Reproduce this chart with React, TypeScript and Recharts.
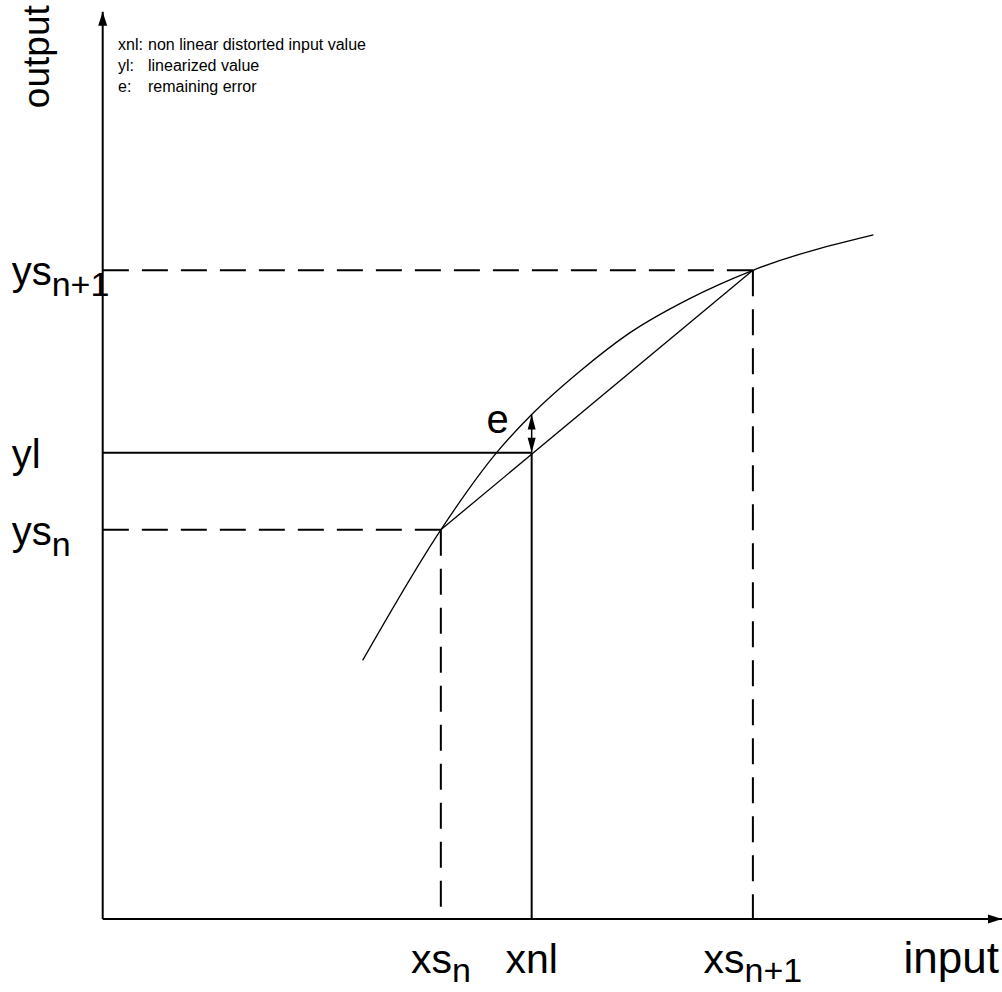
import React from 'react';
import { ComposedChart, Line, XAxis, YAxis, ReferenceLine, ReferenceDot } from 'recharts';

// non linear characteristic (input / output in % of axis length)
const curveInput = [28.9, 37.6, 43.8, 47.7, 53.1, 58.6, 65.1, 72.3, 85.7];
const curveOutput = [28.5, 42.9, 51.4, 55.6, 60.4, 64.6, 68.3, 71.5, 75.4];

// support points and the linearized value
const xsN = 37.6;
const xnl = 47.7;
const xsN1 = 72.3;
const ysN = 42.9;
const yl = 51.4;
const ysN1 = 71.5;

const xTicks = [xsN, xnl, xsN1];
const xTickLabels = [['xs', 'n'], ['xnl', ''], ['xs', 'n+1']];
const yTicks = [ysN, yl, ysN1];
const yTickLabels = [['ys', 'n'], ['yl', ''], ['ys', 'n+1']];

const legendLines = [
  ['xnl:', 'non linear distorted input value'],
  ['yl:', 'linearized value'],
  ['e:', 'remaining error'],
];

const curveData = curveInput.map((x, i) => ({ x, y: curveOutput[i] }));
const chordData = [
  { x: xsN, y: ysN },
  { x: xsN1, y: ysN1 },
];
const eTop = curveOutput[curveInput.indexOf(xnl)];

const FONT = '"Liberation Sans", Arial, Helvetica, sans-serif';

const XTick = (props: any) => {
  const { x, y, payload } = props;
  const [main, sub] = xTickLabels[xTicks.indexOf(payload.value)] || ['', ''];
  return (
    <text x={x} y={y + 54} textAnchor="middle" fontSize={41} fontFamily={FONT} fill="#000">
      {main}
      {sub && (
        <tspan fontSize={34} dy={9}>
          {sub}
        </tspan>
      )}
    </text>
  );
};

const YTick = (props: any) => {
  const { x, y, payload } = props;
  const [main, sub] = yTickLabels[yTicks.indexOf(payload.value)] || ['', ''];
  return (
    <text x={x - 91} y={y + 15} textAnchor="start" fontSize={40} fontFamily={FONT} fill="#000">
      {main}
      {sub && (
        <tspan fontSize={34} dy={11}>
          {sub}
        </tspan>
      )}
    </text>
  );
};

const upHead = (len: number, half: number) => (props: any) => {
  const { cx, cy } = props;
  return <polygon points={`${cx},${cy} ${cx - half},${cy + len} ${cx + half},${cy + len}`} fill="#000" />;
};

const downHead = (len: number, half: number) => (props: any) => {
  const { cx, cy } = props;
  return <polygon points={`${cx},${cy} ${cx - half},${cy - len} ${cx + half},${cy - len}`} fill="#000" />;
};

const rightHead = (props: any) => {
  const { cx, cy } = props;
  return <polygon points={`${cx},${cy} ${cx - 14},${cy - 4.5} ${cx - 14},${cy + 4.5}`} fill="#000" />;
};

const errorLabel = (props: any) => {
  const { cx, cy } = props;
  return (
    <text x={cx - 34} y={cy + 18} textAnchor="middle" fontSize={40} fontFamily={FONT} fill="#000">
      e
    </text>
  );
};

const outputLabel = (props: any) => {
  const vb = props.viewBox || { x: 0, y: 0 };
  const lx = vb.x + 49;
  const ly = vb.y + 45;
  return (
    <text x={lx} y={ly} transform={`rotate(-90, ${lx}, ${ly})`} textAnchor="middle" fontSize={37} fontFamily={FONT} fill="#000">
      output
    </text>
  );
};

const inputLabel = (props: any) => {
  const vb = props.viewBox || { x: 0, y: 0, width: 0 };
  return (
    <text x={vb.x + vb.width - 3} y={vb.y + 54} textAnchor="end" fontSize={44} fontFamily={FONT} fill="#000">
      input
    </text>
  );
};

const App = () => {
  return (
    <div style={{ position: 'absolute', left: 0, top: 0, width: 1002, height: 992, background: '#fff' }}>
      <ComposedChart width={1002} height={992} margin={{ top: 11.7, right: 0, bottom: 0, left: 0 }}>
        <XAxis
          type="number"
          dataKey="x"
          domain={[0, 100]}
          ticks={xTicks}
          tick={<XTick />}
          tickLine={false}
          tickSize={0}
          tickMargin={0}
          interval={0}
          height={73}
          axisLine={{ stroke: '#000', strokeWidth: 2 }}
          allowDataOverflow
          label={{ content: inputLabel }}
        />
        <YAxis
          type="number"
          dataKey="y"
          domain={[0, 100]}
          ticks={yTicks}
          tick={<YTick />}
          tickLine={false}
          tickSize={0}
          tickMargin={0}
          interval={0}
          width={102.7}
          axisLine={{ stroke: '#000', strokeWidth: 2 }}
          allowDataOverflow
          label={{ content: outputLabel }}
        />

        {/* dashed support point lines */}
        <ReferenceLine segment={[{ x: xsN, y: ysN }, { x: 0, y: ysN }]} stroke="#000" strokeWidth={2} strokeDasharray="26 13" />
        <ReferenceLine segment={[{ x: xsN, y: ysN }, { x: xsN, y: 0 }]} stroke="#000" strokeWidth={2} strokeDasharray="26 13" />
        <ReferenceLine segment={[{ x: xsN1, y: ysN1 }, { x: 0, y: ysN1 }]} stroke="#000" strokeWidth={2} strokeDasharray="26 13" />
        <ReferenceLine segment={[{ x: xsN1, y: ysN1 }, { x: xsN1, y: 0 }]} stroke="#000" strokeWidth={2} strokeDasharray="26 13" />

        {/* linearized value */}
        <ReferenceLine segment={[{ x: 0, y: yl }, { x: xnl, y: yl }]} stroke="#000" strokeWidth={2} />
        <ReferenceLine segment={[{ x: xnl, y: yl }, { x: xnl, y: 0 }]} stroke="#000" strokeWidth={2} />

        <Line data={curveData} dataKey="y" type="monotone" stroke="#000" strokeWidth={1.3} dot={false} activeDot={false} isAnimationActive={false} />
        <Line data={chordData} dataKey="y" type="linear" stroke="#000" strokeWidth={1.3} dot={false} activeDot={false} isAnimationActive={false} />

        {/* remaining error arrow */}
        <ReferenceLine segment={[{ x: xnl, y: yl }, { x: xnl, y: eTop }]} stroke="#000" strokeWidth={1.5} />
        <ReferenceDot x={xnl} y={eTop} ifOverflow="visible" shape={upHead(15, 4)} />
        <ReferenceDot x={xnl} y={yl} ifOverflow="visible" shape={downHead(15, 4)} />
        <ReferenceDot x={xnl} y={eTop} ifOverflow="visible" shape={errorLabel} />

        {/* axis arrows */}
        <ReferenceDot x={0} y={100} ifOverflow="visible" shape={upHead(14, 4.5)} />
        <ReferenceDot x={100} y={0} ifOverflow="visible" shape={rightHead} />
      </ComposedChart>

      <div style={{ position: 'absolute', left: 118, top: 34, fontFamily: FONT, fontSize: 16, lineHeight: '21px', color: '#000' }}>
        {legendLines.map(([key, text]) => (
          <div key={key} style={{ display: 'flex', whiteSpace: 'nowrap' }}>
            <span style={{ width: 30 }}>{key}</span>
            <span>{text}</span>
          </div>
        ))}
      </div>
    </div>
  );
};

export default App;
